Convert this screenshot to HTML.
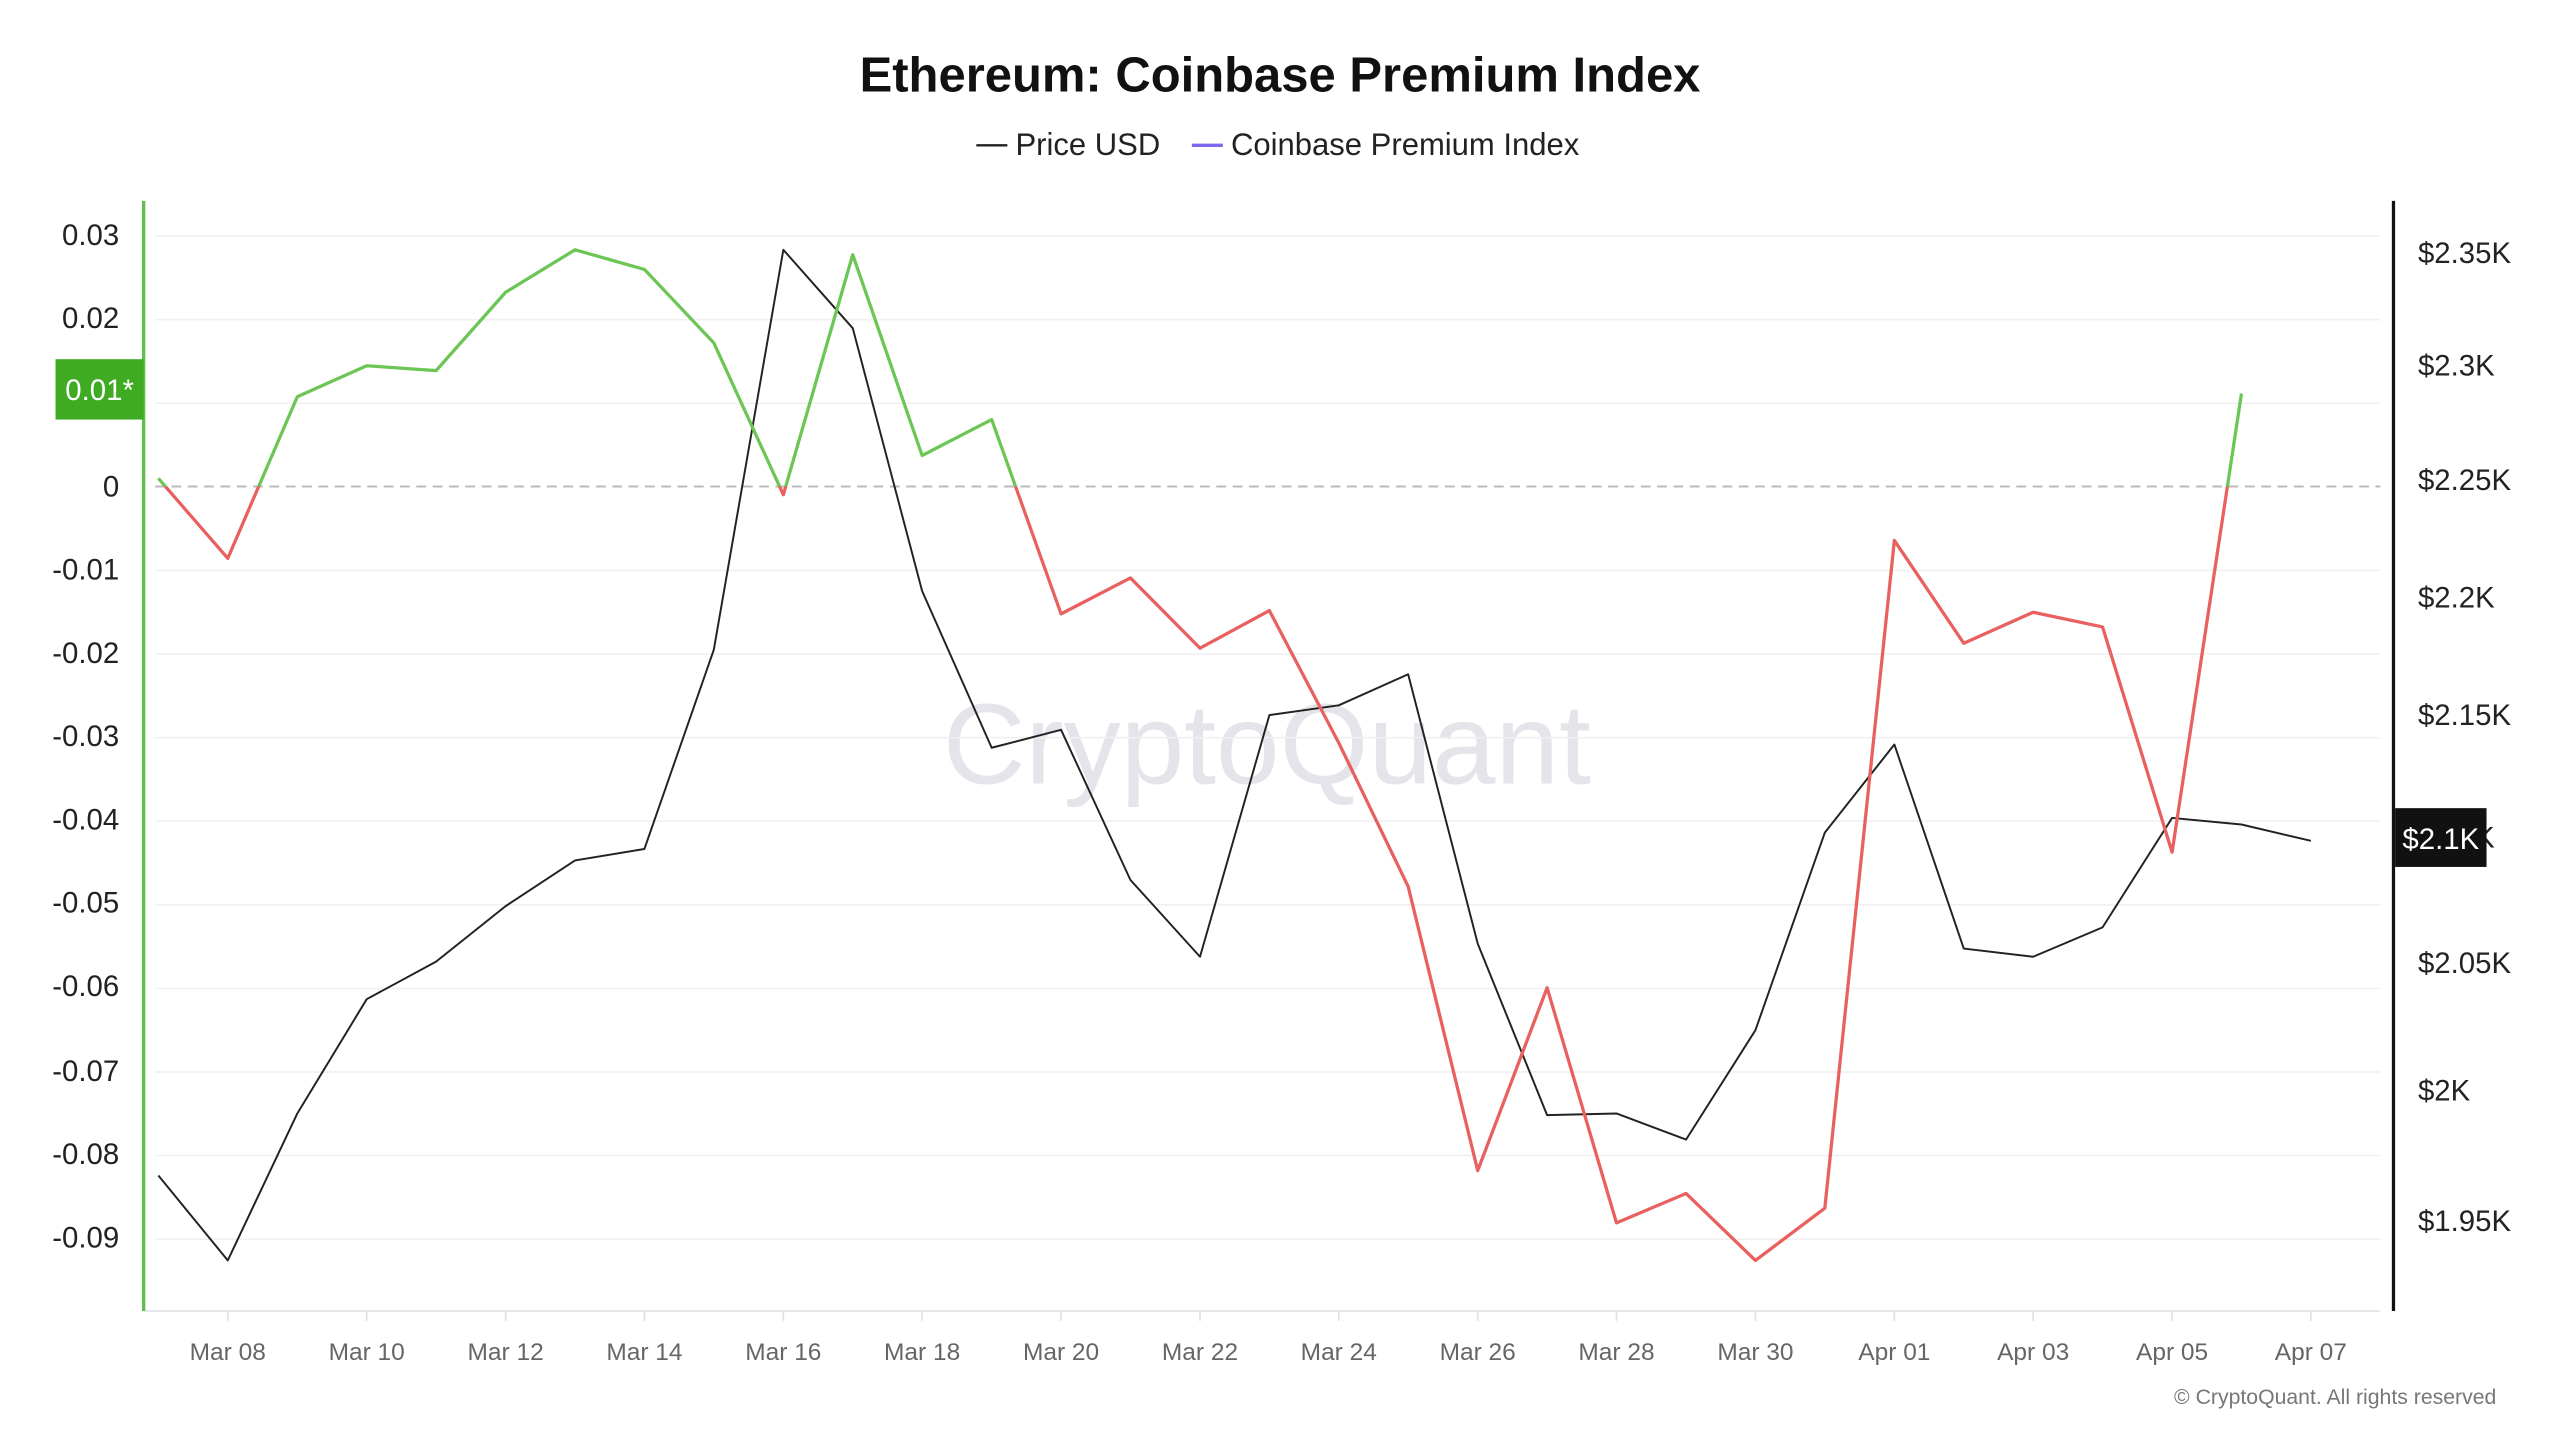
<!DOCTYPE html>
<html><head><meta charset="utf-8"><style>
html,body{margin:0;padding:0;background:#fff;}
svg{display:block;font-family:"Liberation Sans",sans-serif;}
</style></head><body>
<svg width="2560" height="1440" viewBox="0 0 1568 882" preserveAspectRatio="none" xmlns="http://www.w3.org/2000/svg">
<defs>
<clipPath id="above"><rect x="0" y="0" width="1568" height="298"/></clipPath>
<clipPath id="below"><rect x="0" y="298" width="1568" height="600"/></clipPath>
</defs>
<text x="784" y="56" text-anchor="middle" font-size="30" font-weight="bold" fill="#111">Ethereum: Coinbase Premium Index</text>
<line x1="598" y1="89" x2="617" y2="89" stroke="#222" stroke-width="1.5"/>
<text x="622" y="95" font-size="19" fill="#222">Price USD</text>
<line x1="730" y1="89" x2="749" y2="89" stroke="#7b68ee" stroke-width="2"/>
<text x="754" y="95" font-size="19" fill="#222">Coinbase Premium Index</text>
<text x="776" y="480" text-anchor="middle" font-size="70" fill="#e4e4ea">CryptoQuant</text>
<g stroke="#f0f0f2" stroke-width="1">
<line x1="95" y1="144.6" x2="1458" y2="144.6"/><line x1="95" y1="195.8" x2="1458" y2="195.8"/>
<line x1="95" y1="247" x2="1458" y2="247"/><line x1="95" y1="349.4" x2="1458" y2="349.4"/>
<line x1="95" y1="400.6" x2="1458" y2="400.6"/><line x1="95" y1="451.8" x2="1458" y2="451.8"/>
<line x1="95" y1="503" x2="1458" y2="503"/><line x1="95" y1="554.2" x2="1458" y2="554.2"/>
<line x1="95" y1="605.4" x2="1458" y2="605.4"/><line x1="95" y1="656.6" x2="1458" y2="656.6"/>
<line x1="95" y1="707.8" x2="1458" y2="707.8"/><line x1="95" y1="759" x2="1458" y2="759"/>
</g>
<line x1="95" y1="298" x2="1458" y2="298" stroke="#bbb" stroke-width="1.2" stroke-dasharray="6,4"/>
<line x1="88" y1="803" x2="1458" y2="803" stroke="#e0e0e6" stroke-width="1"/>
<line x1="88" y1="123" x2="88" y2="803" stroke="#5cbf4a" stroke-width="2"/>
<line x1="1466" y1="123" x2="1466" y2="803" stroke="#111" stroke-width="2"/>
<g font-size="18" fill="#222" text-anchor="end">
<text x="73" y="150">0.03</text><text x="73" y="201">0.02</text><text x="73" y="304">0</text>
<text x="73" y="355">-0.01</text><text x="73" y="406">-0.02</text><text x="73" y="457">-0.03</text>
<text x="73" y="508">-0.04</text><text x="73" y="559">-0.05</text><text x="73" y="610">-0.06</text>
<text x="73" y="662">-0.07</text><text x="73" y="713">-0.08</text><text x="73" y="764">-0.09</text>
</g>
<rect x="34" y="220" width="54" height="37" fill="#3fab23"/>
<text x="61" y="245" font-size="18" fill="#fff" text-anchor="middle">0.01*</text>
<g font-size="18" fill="#222">
<text x="1481" y="161">$2.35K</text><text x="1481" y="230">$2.3K</text><text x="1481" y="300">$2.25K</text>
<text x="1481" y="372">$2.2K</text><text x="1481" y="444">$2.15K</text><text x="1481" y="519">$2.1K</text>
<text x="1481" y="596">$2.05K</text><text x="1481" y="674">$2K</text><text x="1481" y="754">$1.95K</text>
</g>
<rect x="1467" y="495" width="56" height="36" fill="#111"/>
<text x="1495" y="520" font-size="18" fill="#fff" text-anchor="middle">$2.1K</text>
<g font-size="15" fill="#666" text-anchor="middle">
<text x="139.5" y="833">Mar 08</text><text x="224.6" y="833">Mar 10</text><text x="309.7" y="833">Mar 12</text>
<text x="394.7" y="833">Mar 14</text><text x="479.8" y="833">Mar 16</text><text x="564.8" y="833">Mar 18</text>
<text x="649.9" y="833">Mar 20</text><text x="735" y="833">Mar 22</text><text x="820" y="833">Mar 24</text>
<text x="905.1" y="833">Mar 26</text><text x="990.1" y="833">Mar 28</text><text x="1075.2" y="833">Mar 30</text>
<text x="1160.3" y="833">Apr 01</text><text x="1245.3" y="833">Apr 03</text><text x="1330.4" y="833">Apr 05</text>
<text x="1415.4" y="833">Apr 07</text>
</g>
<g stroke="#e0e0e6" stroke-width="1">
<line x1="139.5" y1="803" x2="139.5" y2="809"/><line x1="224.6" y1="803" x2="224.6" y2="809"/><line x1="309.7" y1="803" x2="309.7" y2="809"/>
<line x1="394.7" y1="803" x2="394.7" y2="809"/><line x1="479.8" y1="803" x2="479.8" y2="809"/><line x1="564.8" y1="803" x2="564.8" y2="809"/>
<line x1="649.9" y1="803" x2="649.9" y2="809"/><line x1="735" y1="803" x2="735" y2="809"/><line x1="820" y1="803" x2="820" y2="809"/>
<line x1="905.1" y1="803" x2="905.1" y2="809"/><line x1="990.1" y1="803" x2="990.1" y2="809"/><line x1="1075.2" y1="803" x2="1075.2" y2="809"/>
<line x1="1160.3" y1="803" x2="1160.3" y2="809"/><line x1="1245.3" y1="803" x2="1245.3" y2="809"/><line x1="1330.4" y1="803" x2="1330.4" y2="809"/>
<line x1="1415.4" y1="803" x2="1415.4" y2="809"/>
</g>
<polyline fill="none" stroke="#222" stroke-width="1.2" stroke-linejoin="round" points="97,720 139.5,772 182.1,682 224.6,612 267.1,589 309.7,555 352.2,527 394.7,520 437.2,398 479.8,153 522.3,201 564.8,362 607.4,458 649.9,447 692.4,539 735,586 777.5,438 820,432 862.5,413 905.1,578 947.6,683 990.1,682 1032.7,698 1075.2,631 1117.7,510 1160.3,456 1202.8,581 1245.3,586 1287.8,568 1330.4,501 1372.9,505 1415.4,515"/>
<g fill="none" stroke-width="2" stroke-linejoin="round">
<polyline clip-path="url(#above)" stroke="#6cc655" points="97,293 139.5,342 182.1,243 224.6,224 267.1,227 309.7,179 352.2,153 394.7,165 437.2,210 479.8,303 522.3,156 564.8,279 607.4,257 649.9,376 692.4,354 735,397 777.5,374 820,455 862.5,543 905.1,717 947.6,605 990.1,749 1032.7,731 1075.2,772 1117.7,740 1160.3,331 1202.8,394 1245.3,375 1287.8,384 1330.4,522 1372.9,241"/>
<polyline clip-path="url(#below)" stroke="#e8605f" points="97,293 139.5,342 182.1,243 224.6,224 267.1,227 309.7,179 352.2,153 394.7,165 437.2,210 479.8,303 522.3,156 564.8,279 607.4,257 649.9,376 692.4,354 735,397 777.5,374 820,455 862.5,543 905.1,717 947.6,605 990.1,749 1032.7,731 1075.2,772 1117.7,740 1160.3,331 1202.8,394 1245.3,375 1287.8,384 1330.4,522 1372.9,241"/>
</g>
<text x="1529" y="860" font-size="13" fill="#777" text-anchor="end">© CryptoQuant. All rights reserved</text>
</svg>
</body></html>
